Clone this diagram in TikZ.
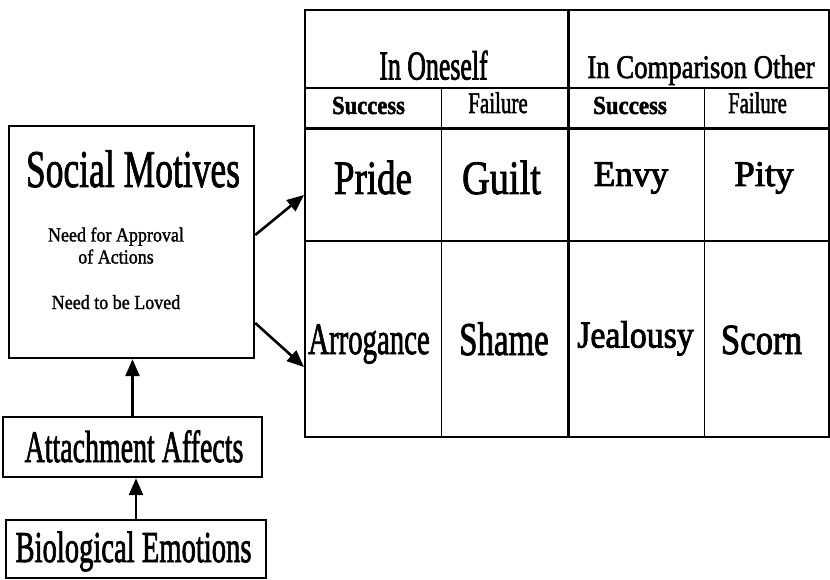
\documentclass[tikz,border=0pt]{standalone}
\usepackage{fontspec}
\setmainfont{Liberation Serif}
\usepackage{graphicx}
\usetikzlibrary{arrows.meta}

% [outline], size, horizontal squeeze, text (thin outline makes it look heavier)
\newcommand{\lbl}[4][0.9]{\fontsize{#2}{#2}\selectfont\special{pdf:literal direct 2 Tr #1 w}\scalebox{#3}[1]{#4}\special{pdf:literal direct 0 Tr}}

\tikzset{
	txt/.style={anchor=base, inner sep=0pt},
	box/.style={draw, line width=2.4pt, inner sep=0pt},
	arr/.style={line width=2.6pt, -{Triangle[length=17pt,width=14pt]}}
}

\begin{document}
\begin{tikzpicture}[x=1pt, y=-1pt]
	\useasboundingbox (0,0) rectangle (830,580);

	% left column
	\node[box, minimum width=245pt, minimum height=232pt] (sm) at (131.5,242) {};
	\node[box, minimum width=259pt, minimum height=60pt] (att) at (132.5,447) {};
	\node[box, minimum width=260pt, minimum height=58pt] (bio) at (136,549) {};

	\node[txt] (smt) at (133,187) {\lbl{53}{0.67}{Social Motives}};
	\node[txt] (need1) at (116,241.5) {\lbl[0.3]{20}{0.9}{Need for Approval}};
	\node[txt] (need2) at (116,263.5) {\lbl[0.3]{20}{0.9}{of Actions}};
	\node[txt] (need3) at (116,309) {\lbl[0.3]{20}{0.9}{Need to be Loved}};
	\node[txt] (attt) at (134,462) {\lbl{45}{0.62}{Attachment Affects}};
	\node[txt] (biot) at (133.5,562) {\lbl{44}{0.65}{Biological Emotions}};

	% table
	\node[draw, line width=2pt, minimum width=523.5pt, minimum height=426.5pt, inner sep=0pt] (tbl) at (566.75,223.75) {};
	\draw[line width=1.5pt] (305,88) -- (828.5,88);
	\draw[line width=2.2pt] (305,128.5) -- (828.5,128.5);
	\draw[line width=2pt] (305,241) -- (828.5,241);
	\draw[line width=2.2pt] (568.5,10.5) -- (568.5,437);
	\draw[line width=1pt] (441.5,88) -- (441.5,437);
	\draw[line width=1pt] (704,88) -- (704,437);

	\node[txt] (self) at (433.5,79.5) {\lbl{41}{0.63}{In Oneself}};
	\node[txt] (comp) at (701,78) {\lbl[0.7]{33}{0.81}{In Comparison Other}};
	\node[txt] (succ1) at (368.5,114) {\lbl[0.5]{26}{0.87}{\bfseries Success}};
	\node[txt] (fail1) at (498,113) {\lbl[0.6]{30}{0.70}{Failure}};
	\node[txt] (succ2) at (630,114) {\lbl[0.5]{26}{0.88}{\bfseries Success}};
	\node[txt] (fail2) at (757.5,113) {\lbl[0.6]{30}{0.69}{Failure}};

	\node[txt] (pride) at (373,194) {\lbl{48}{0.77}{Pride}};
	\node[txt] (guilt) at (501.5,194) {\lbl{48}{0.80}{Guilt}};
	\node[txt] (envy) at (631,186) {\lbl{36}{0.98}{Envy}};
	\node[txt] (pity) at (764,186) {\lbl{36}{1.02}{Pity}};
	\node[txt] (arro) at (369,354) {\lbl{45}{0.64}{Arrogance}};
	\node[txt] (shame) at (504,355) {\lbl{47}{0.70}{Shame}};
	\node[txt] (jeal) at (635.5,347.5) {\lbl{38}{0.89}{Jealousy}};
	\node[txt] (scorn) at (761.5,354) {\lbl{43}{0.81}{Scorn}};

	% arrows
	\draw[arr] (bio.north) -- (bio.north |- att.south);
	\draw[arr] (att.north) -- (att.north |- sm.south);
	\draw[arr] ([yshift=7pt]sm.east) -- ([yshift=28.75pt]tbl.west);
	\draw[arr] ([yshift=-81pt]sm.east) -- ([yshift=-143.25pt]tbl.west);
\end{tikzpicture}
\end{document}
